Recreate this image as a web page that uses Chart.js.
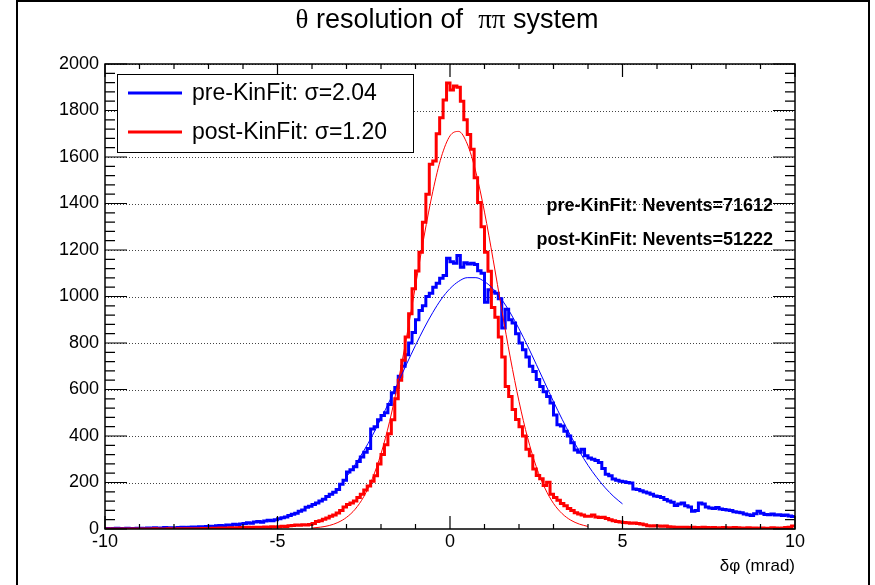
<!DOCTYPE html>
<html>
<head>
<meta charset="utf-8">
<script src="https://cdn.jsdelivr.net/npm/chart.js@4.4.1/dist/chart.umd.min.js"></script>
<style>
  html, body { margin: 0; padding: 0; background: #fff; }
</style>
</head>
<body>
<canvas id="c" width="875" height="585"></canvas>
<script>
// histogram binning: 200 bins of 0.1 mrad from -10 to 10
const binLow = -10;
const binWidth = 0.1;

// pre-KinFit (blue) bin contents
const preCounts = [
  2, 1, 2, 3, 2, 1, 3, 2, 2, 3,
  3, 2, 4, 3, 5, 3, 4, 6, 4, 5,
  5, 6, 8, 6, 7, 9, 8, 10, 9, 11,
  12, 11, 14, 15, 13, 17, 16, 20, 18, 22,
  24, 27, 25, 30, 32, 29, 34, 38, 36, 40,
  44, 48, 52, 58, 63, 68, 76, 82, 94, 98,
  105, 112, 120, 128, 140, 149, 158, 170, 192, 210,
  245, 255, 268, 290, 310, 330, 346, 430, 440, 470,
  488, 500, 536, 586, 609, 657, 700, 750, 800, 845,
  900, 940, 960, 1000, 1014, 1040, 1057, 1079, 1090, 1164,
  1150, 1143, 1176, 1126, 1145, 1140, 1143, 1138, 1111, 1100,
  975, 1029, 1020, 1014, 990, 864, 945, 900, 886, 840,
  800, 771, 740, 700, 677, 643, 613, 590, 570, 542,
  490, 448, 443, 420, 400, 371, 340, 330, 343, 315,
  305, 300, 295, 286, 260, 235, 229, 215, 210, 205,
  203, 200, 198, 172, 170, 165, 159, 155, 150, 142,
  140, 135, 127, 120, 115, 101, 108, 112, 100, 95,
  76, 80, 112, 108, 95, 90, 88, 92, 86, 84,
  82, 80, 74, 72, 70, 65, 61, 58, 66, 76,
  68, 62, 61, 64, 60, 61, 58, 60, 56, 54
];

// post-KinFit (red) bin contents
const postCounts = [
  0, 0, 0, 0, 0, 0, 0, 0, 0, 0,
  0, 0, 0, 0, 1, 0, 0, 0, 1, 0,
  0, 1, 0, 1, 1, 0, 1, 1, 2, 1,
  2, 3, 3, 4, 3, 4, 5, 4, 5, 6,
  6, 7, 6, 8, 7, 8, 9, 8, 10, 9,
  10, 12, 11, 14, 15, 17, 16, 18, 17, 19,
  24, 32, 36, 42, 47, 55, 60, 69, 80, 95,
  105, 112, 120, 135, 149, 168, 185, 205, 229, 280,
  320, 362, 410, 470, 560, 640, 726, 826, 926, 1033,
  1110, 1190, 1319, 1440, 1569, 1583, 1700, 1769, 1845, 1918,
  1888, 1905, 1900, 1840, 1760, 1697, 1633, 1511, 1404, 1300,
  1190, 1109, 953, 911, 826, 740, 613, 570, 514, 471,
  440, 400, 343, 315, 258, 230, 216, 187, 201, 150,
  135, 124, 110, 100, 88, 80, 70, 64, 60, 55,
  55, 60, 52, 50, 51, 45, 40, 36, 32, 30,
  28, 27, 25, 26, 24, 22, 18, 14, 13, 14,
  13, 12, 13, 10, 9, 8, 7, 8, 7, 6,
  7, 6, 5, 8, 6, 5, 6, 4, 5, 6,
  5, 4, 6, 5, 4, 3, 5, 4, 4, 3,
  4, 3, 3, 5, 4, 3, 4, 6, 8, 13
];

// fitted curves
const preFitX = [-3, -2.75, -2.5, -2.25, -2, -1.75, -1.5, -1.25, -1, -0.75, -0.5, -0.25, 0,
  0.25, 0.5, 0.75, 1, 1.25, 1.5, 1.75, 2, 2.25, 2.5, 2.75, 3, 3.25, 3.5, 3.75, 4, 4.25, 4.5, 4.75, 5];
const preFitY = [224, 277, 336, 402, 475, 551, 631, 712, 790, 864, 931, 989, 1034,
  1065, 1081, 1081, 1064, 1033, 987, 929, 861, 787, 708, 628, 548, 472, 400, 334, 274, 222, 177, 139, 108];
const postFitX = [-4, -3.75, -3.5, -3.25, -3, -2.75, -2.5, -2.25, -2, -1.75, -1.5, -1.25, -1, -0.75, -0.5, -0.25, 0,
  0.25, 0.5, 0.75, 1, 1.25, 1.5, 1.75, 2, 2.25, 2.5, 2.75, 3, 3.25, 3.5, 3.75, 4];
const postFitY = [4, 8, 15, 28, 50, 85, 139, 217, 324, 463, 635, 833, 1047, 1260, 1451, 1601, 1691,
  1710, 1656, 1535, 1363, 1159, 943, 735, 549, 392, 268, 176, 110, 66, 38, 21, 11];

const xTicks = [-10, -5, 0, 5, 10];
const yTicks = [0, 200, 400, 600, 800, 1000, 1200, 1400, 1600, 1800, 2000];

const legendLabels = ['pre-KinFit: \u03c3=2.04', 'post-KinFit: \u03c3=1.20'];
const statLabels = ['pre-KinFit: Nevents=71612', 'post-KinFit: Nevents=51222'];

const BLUE = '#0000ff';
const RED = '#ff0000';
const SANS = '"Liberation Sans", Arial, sans-serif';
const SERIF = '"Liberation Serif", "Times New Roman", serif';

function histPoints(counts) {
  const pts = [{ x: binLow, y: counts[0] }];
  counts.forEach((c, i) => pts.push({ x: binLow + binWidth * (i + 0.5), y: c }));
  pts.push({ x: binLow + binWidth * counts.length, y: counts[counts.length - 1] });
  return pts;
}

function fitPoints(xs, ys) {
  return xs.map((x, i) => ({ x: x, y: ys[i] }));
}

const rootStyle = {
  id: 'rootStyle',
  beforeDraw(chart) {
    const { ctx, width, height } = chart;
    ctx.save();
    ctx.fillStyle = '#fff';
    ctx.fillRect(0, 0, width, height);
    // canvas border
    ctx.strokeStyle = '#000';
    ctx.lineWidth = 2;
    ctx.beginPath();
    ctx.moveTo(17, height);
    ctx.lineTo(17, 1);
    ctx.lineTo(869, 1);
    ctx.lineTo(869, height);
    ctx.stroke();
    ctx.restore();
  },
  beforeDatasetsDraw(chart) {
    const { ctx, chartArea: a, scales: { y } } = chart;
    ctx.save();
    ctx.strokeStyle = '#444';
    ctx.lineWidth = 1;
    ctx.setLineDash([1, 2]);
    yTicks.forEach(v => {
      if (v === 0) return;
      const py = Math.round(y.getPixelForValue(v)) + 0.5;
      ctx.beginPath();
      ctx.moveTo(a.left, py);
      ctx.lineTo(a.right, py);
      ctx.stroke();
    });
    ctx.restore();
  },
  afterDatasetsDraw(chart) {
    const { ctx, chartArea: a, scales: { x, y } } = chart;
    ctx.save();
    // frame
    ctx.strokeStyle = '#000';
    ctx.lineWidth = 1.5;
    ctx.strokeRect(a.left, a.top, a.right - a.left, a.bottom - a.top);
    // ticks
    ctx.lineWidth = 1.2;
    ctx.beginPath();
    for (let v = 0; v <= 2000; v += 40) {
      const py = y.getPixelForValue(v);
      const len = v % 200 === 0 ? 22 : 10;
      ctx.moveTo(a.left, py); ctx.lineTo(a.left + len, py);
      ctx.moveTo(a.right, py); ctx.lineTo(a.right - len, py);
    }
    for (let v = -10; v <= 10; v += 1) {
      const px = x.getPixelForValue(v);
      const len = v % 5 === 0 ? 13 : 5;
      ctx.moveTo(px, a.bottom); ctx.lineTo(px, a.bottom - len);
      ctx.moveTo(px, a.top); ctx.lineTo(px, a.top + len);
    }
    ctx.stroke();

    // legend box
    ctx.fillStyle = '#fff';
    ctx.fillRect(117, 74, 296, 79);
    ctx.lineWidth = 1;
    ctx.strokeRect(117.5, 74.5, 296, 78);
    [[BLUE, 93], [RED, 132]].forEach(([col, ly], i) => {
      ctx.strokeStyle = col;
      ctx.lineWidth = 3;
      ctx.beginPath();
      ctx.moveTo(128, ly); ctx.lineTo(182, ly);
      ctx.stroke();
      ctx.fillStyle = '#000';
      ctx.font = '23px ' + SANS;
      ctx.textAlign = 'left';
      ctx.textBaseline = 'middle';
      ctx.fillText(legendLabels[i], 192, ly + 1);
    });

    // event counts
    ctx.font = 'bold 18px ' + SANS;
    ctx.textAlign = 'right';
    ctx.fillStyle = '#000';
    ctx.fillText(statLabels[0], 773, 206);
    ctx.fillText(statLabels[1], 773, 240);

    // title with Greek letters in serif
    const parts = [['\u03b8', SERIF], [' resolution of  ', SANS], ['\u03c0\u03c0', SERIF], [' system', SANS]];
    let total = 0;
    parts.forEach(p => { ctx.font = '27px ' + p[1]; total += ctx.measureText(p[0]).width; });
    let tx = 447 - total / 2;
    ctx.textAlign = 'left';
    ctx.textBaseline = 'middle';
    parts.forEach(p => {
      ctx.font = '27px ' + p[1];
      ctx.fillText(p[0], tx, 21);
      tx += ctx.measureText(p[0]).width;
    });
    ctx.restore();
  }
};

new Chart(document.getElementById('c').getContext('2d'), {
  type: 'line',
  data: {
    datasets: [
      { label: 'post fit', data: fitPoints(postFitX, postFitY), borderColor: RED, borderWidth: 1,
        pointRadius: 0, cubicInterpolationMode: 'monotone', order: 0 },
      { label: 'pre fit', data: fitPoints(preFitX, preFitY), borderColor: BLUE, borderWidth: 1,
        pointRadius: 0, cubicInterpolationMode: 'monotone', order: 0 },
      { label: 'post-KinFit', data: histPoints(postCounts), borderColor: RED, borderWidth: 3,
        stepped: 'middle', pointRadius: 0, order: 1 },
      { label: 'pre-KinFit', data: histPoints(preCounts), borderColor: BLUE, borderWidth: 3,
        stepped: 'middle', pointRadius: 0, order: 2 }
    ]
  },
  options: {
    responsive: false,
    animation: false,
    layout: { padding: { left: 0, top: 64, right: 80, bottom: 0 } },
    plugins: { legend: { display: false }, tooltip: { enabled: false }, title: { display: false } },
    scales: {
      x: {
        type: 'linear', min: -10, max: 10,
        grid: { display: false }, border: { display: false },
        afterBuildTicks: s => { s.ticks = xTicks.map(v => ({ value: v })); },
        ticks: { autoSkip: false, maxRotation: 0, padding: -6, color: '#000',
                 font: { family: SANS, size: 18 }, callback: v => String(v) },
        title: { display: true, text: '\u03b4\u03c6 (mrad)', align: 'end', color: '#000',
                 font: { family: SANS, size: 17 }, padding: { top: 0, bottom: 8 } },
        afterFit: s => { s.height = 56; }
      },
      y: {
        min: 0, max: 2000,
        grid: { display: false }, border: { display: false },
        afterBuildTicks: s => { s.ticks = yTicks.map(v => ({ value: v })); },
        ticks: { autoSkip: false, padding: -2, color: '#000',
                 font: { family: SANS, size: 18 }, callback: v => String(v) },
        afterFit: s => { s.width = 105; }
      }
    }
  },
  plugins: [rootStyle]
});
</script>
</body>
</html>
